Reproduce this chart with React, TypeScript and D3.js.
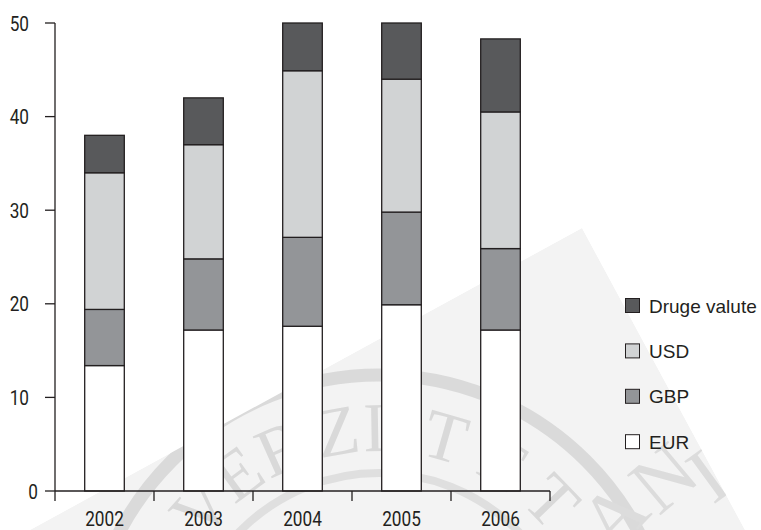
import React from "react";
import * as d3 from "d3";

const years = ["2002", "2003", "2004", "2005", "2006"];
const eur = [13.4, 17.2, 17.6, 19.9, 17.2];
const gbp = [6.0, 7.6, 9.5, 9.9, 8.7];
const usd = [14.6, 12.2, 17.8, 14.2, 14.6];
const other = [4.0, 5.0, 5.1, 6.0, 7.8];
const seriesKeys = ["EUR", "GBP", "USD", "Druge valute"];
const legendOrder = ["Druge valute", "USD", "GBP", "EUR"];
const yTicks = [0, 10, 20, 30, 40, 50];

const colors: Record<string, string> = {
  EUR: "#ffffff",
  GBP: "#939598",
  USD: "#d1d3d4",
  "Druge valute": "#58595b",
};

// watermark (faint seal in the background)
const sealLetters = ["V", "E", "R", "Z", "I", "T", "E", "T"];
const sealAngles = [-138, -126, -114, -100, -91, -74, -58.5, -44];
const outerLetters = ["A", "N", "I"];
const outerX = [614, 664, 708];
const outerY = [516, 478, 476];
const outerRot = [-46, -40, -36];

const W = 761;
const H = 530;
const ink = "#231f20";
const condensed = "Roboto, 'Open Sans', sans-serif";

function Narrow({ x, y, anchor, children }: { x: number; y: number; anchor: string; children: any }) {
  return (
    <g transform={`translate(${x},${y}) scale(0.82,1)`}>
      <text x={0} y={0} textAnchor={anchor} fontFamily={condensed} fontSize={21} fill={ink}>
        {children}
      </text>
    </g>
  );
}

export default function App() {
  const rows = years.map((y, i) => ({
    year: y,
    EUR: eur[i],
    GBP: gbp[i],
    USD: usd[i],
    "Druge valute": other[i],
  }));
  const stacked = d3.stack<any>().keys(seriesKeys)(rows);

  const x = d3.scaleBand<string>().domain(years).range([55, 550]).paddingInner(0.6).paddingOuter(0.3);
  const y = d3.scaleLinear().domain([0, 50]).range([491, 23]);
  const step = x.step();
  const boundaries = d3.range(years.length + 1).map((i) => 55 + i * step);

  const scx = 379;
  const scy = 668;

  return (
    <svg width={W} height={H} style={{ position: "absolute", left: 0, top: 0, background: "#fff" }}>
      {/* faint watermark */}
      <g>
        <polygon points="30,530 582,228 745,530" fill="#f3f3f3" />
        <circle cx={scx} cy={scy} r={293} fill="none" stroke="#dadada" strokeWidth={13} />
        <circle cx={scx} cy={scy} r={195} fill="none" stroke="#dfdfdf" strokeWidth={8} />
        {sealLetters.map((ch, i) => {
          const a = (sealAngles[i] * Math.PI) / 180;
          const r = 240;
          return (
            <text
              key={i}
              transform={`translate(${scx + r * Math.cos(a)},${scy + r * Math.sin(a)}) rotate(${sealAngles[i] + 90})`}
              textAnchor="middle"
              dy="0.33em"
              fontFamily="'Liberation Serif', serif"
              fontSize={70}
              fill="#d9d9d9"
            >
              {ch}
            </text>
          );
        })}
        {outerLetters.map((ch, i) => (
          <text
            key={ch}
            transform={`translate(${outerX[i]},${outerY[i]}) rotate(${outerRot[i]})`}
            textAnchor="middle"
            dy="0.33em"
            fontFamily="'Liberation Serif', serif"
            fontSize={80}
            fill="#dcdcdc"
          >
            {ch}
          </text>
        ))}
        <polygon points="0,0 761,0 761,530 745,530 582,228 30,530 0,530" fill="#fff" />
      </g>

      {/* bars */}
      {stacked.map((s) => (
        <g key={s.key}>
          {s.map((d: any, i: number) => (
            <rect
              key={i}
              x={x(years[i])}
              y={y(d[1])}
              width={x.bandwidth()}
              height={y(d[0]) - y(d[1])}
              fill={colors[s.key]}
              stroke={ink}
              strokeWidth={1.3}
            />
          ))}
        </g>
      ))}

      {/* y axis */}
      <line x1={55} x2={55} y1={23} y2={491} stroke={ink} strokeWidth={1.3} />
      {yTicks.map((t) => (
        <g key={t}>
          <line x1={45} x2={55} y1={y(t)} y2={y(t)} stroke={ink} strokeWidth={1.3} />
          <Narrow x={t === 0 ? 38 : 29} y={y(t) + 7.5} anchor="end">
            {t}
          </Narrow>
        </g>
      ))}

      {/* x axis */}
      <line x1={55} x2={550} y1={491} y2={491} stroke={ink} strokeWidth={1.3} />
      {boundaries.map((b, i) => (
        <line key={i} x1={b} x2={b} y1={491} y2={501} stroke={ink} strokeWidth={1.3} />
      ))}
      {years.map((yr) => (
        <Narrow key={yr} x={(x(yr) as number) + x.bandwidth() / 2} y={526} anchor="middle">
          {yr}
        </Narrow>
      ))}

      {/* legend */}
      {legendOrder.map((k, i) => {
        const cy = 305.5 + i * 45.4;
        return (
          <g key={k}>
            <rect x={625.5} y={cy - 7} width={14} height={14} fill={colors[k]} stroke={ink} strokeWidth={1} />
            <text x={649} y={cy + 7} fontFamily="'Liberation Sans', Arial, sans-serif" fontSize={19} fill={ink}>
              {k}
            </text>
          </g>
        );
      })}
    </svg>
  );
}
